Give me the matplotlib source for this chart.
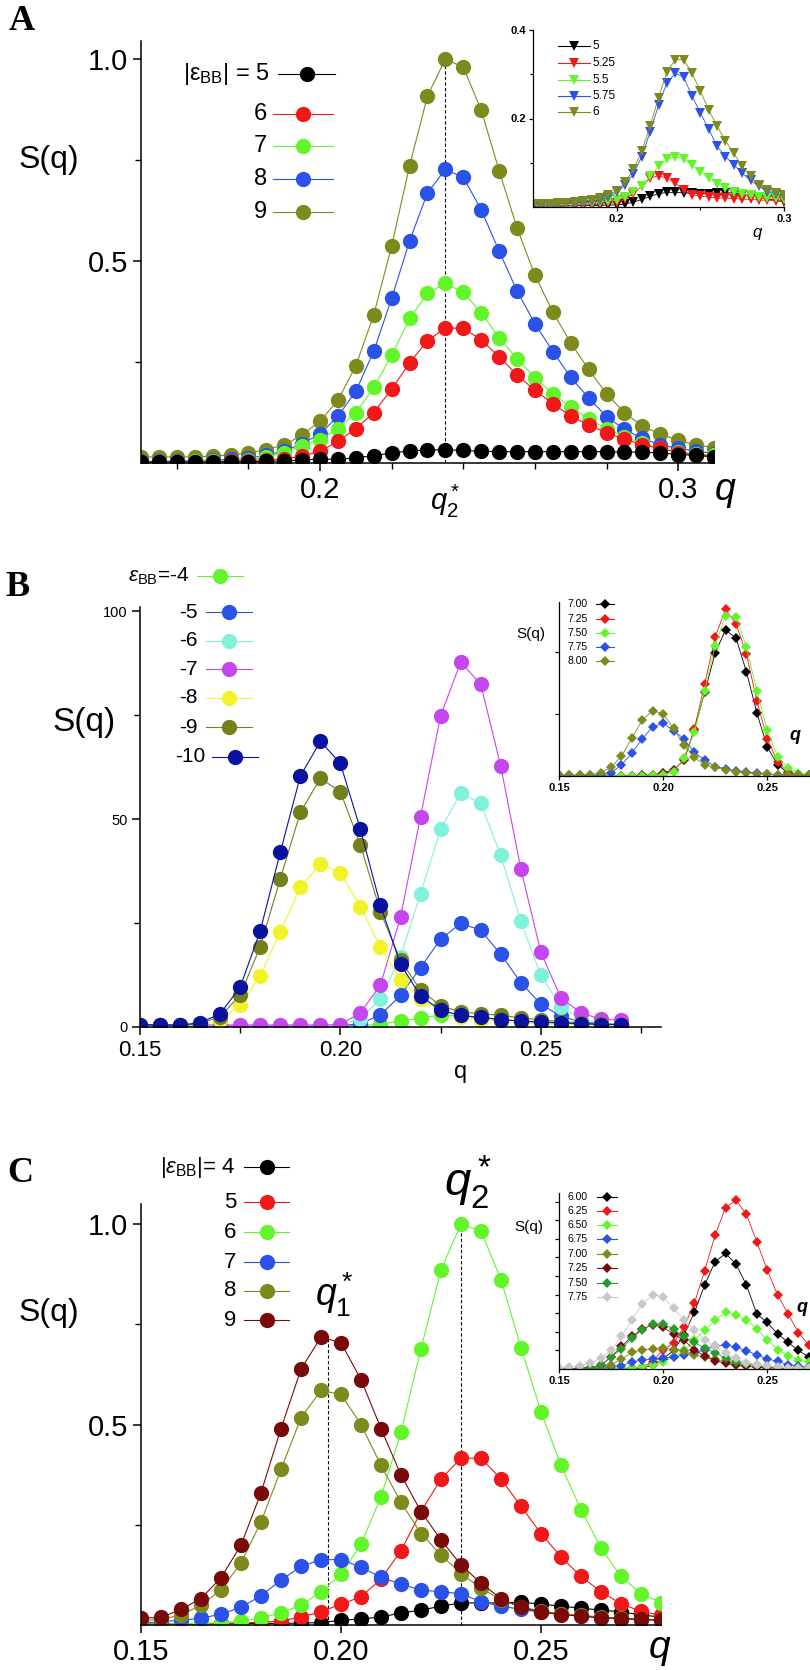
import numpy as np
import matplotlib
matplotlib.use('Agg')
import matplotlib.pyplot as plt
from matplotlib.lines import Line2D
from matplotlib.transforms import blended_transform_factory

plt.rcParams['font.family'] = ['Liberation Sans', 'DejaVu Sans']
plt.rcParams['mathtext.fontset'] = 'custom'
plt.rcParams['mathtext.rm'] = 'Liberation Sans'
plt.rcParams['mathtext.it'] = 'Liberation Sans:italic'
plt.rcParams['mathtext.bf'] = 'Liberation Sans:bold'

#Panel A main data (q = 0.150 ... 0.310, step 0.005)
q_a = np.linspace(0.15, 0.31, 33)
a_labels = ['5', '6', '7', '8', '9']
a_colors = ['black', '#f01818', '#62f52a', '#2a52e8', '#7f8a1c']
a_5 = [0.002, 0.002, 0.002, 0.002, 0.002, 0.003, 0.003, 0.004, 0.005, 0.007, 0.01, 0.009, 0.013, 0.018, 0.025, 0.03,
       0.032, 0.033, 0.031, 0.029, 0.028, 0.028, 0.028, 0.028, 0.028, 0.028, 0.028, 0.027, 0.027, 0.025, 0.021, 0.019, 0.016]
a_6 = [0.002, 0.002, 0.002, 0.002, 0.003, 0.004, 0.006, 0.008, 0.01, 0.017, 0.029, 0.054, 0.085, 0.125, 0.183, 0.248,
       0.303, 0.334, 0.334, 0.305, 0.263, 0.218, 0.18, 0.147, 0.116, 0.094, 0.075, 0.059, 0.045, 0.036, 0.026, 0.02, 0.014]
a_7 = [0.003, 0.003, 0.003, 0.004, 0.005, 0.006, 0.008, 0.014, 0.026, 0.043, 0.058, 0.085, 0.125, 0.187, 0.267, 0.358,
       0.42, 0.445, 0.423, 0.372, 0.31, 0.258, 0.211, 0.171, 0.139, 0.109, 0.085, 0.065, 0.049, 0.036, 0.028, 0.023, 0.019]
a_8 = [0.004, 0.004, 0.005, 0.006, 0.007, 0.009, 0.012, 0.019, 0.03, 0.048, 0.072, 0.116, 0.178, 0.277, 0.408, 0.55,
       0.669, 0.727, 0.707, 0.627, 0.525, 0.426, 0.345, 0.276, 0.212, 0.161, 0.115, 0.083, 0.061, 0.045, 0.036, 0.03, 0.023]
a_9 = [0.015, 0.015, 0.015, 0.015, 0.017, 0.02, 0.025, 0.033, 0.045, 0.069, 0.104, 0.155, 0.241, 0.367, 0.538, 0.736,
       0.909, 1.0, 0.98, 0.874, 0.724, 0.582, 0.465, 0.374, 0.297, 0.232, 0.171, 0.125, 0.091, 0.072, 0.056, 0.045, 0.038]
a_series = [a_5, a_6, a_7, a_8, a_9]
q2_a = 0.235

#Panel A inset (q = 0.150 ... 0.300)
q_ai = np.linspace(0.15, 0.30, 31)
ai_labels = ['5', '5.25', '5.5', '5.75', '6']
ai_5 = [0.002, 0.002, 0.002, 0.002, 0.002, 0.003, 0.003, 0.003, 0.004, 0.004, 0.005, 0.007, 0.011, 0.017, 0.024, 0.03,
        0.033, 0.033, 0.032, 0.031, 0.03, 0.03, 0.031, 0.032, 0.032, 0.028, 0.026, 0.022, 0.018, 0.015, 0.012]
ai_525 = [0.003, 0.003, 0.003, 0.003, 0.004, 0.004, 0.005, 0.005, 0.006, 0.008, 0.01, 0.018, 0.03, 0.047, 0.065, 0.071,
          0.065, 0.054, 0.039, 0.028, 0.024, 0.023, 0.02, 0.02, 0.019, 0.018, 0.017, 0.016, 0.015, 0.014, 0.013]
ai_55 = [0.004, 0.004, 0.005, 0.005, 0.006, 0.007, 0.008, 0.009, 0.011, 0.013, 0.016, 0.023, 0.033, 0.047, 0.069, 0.092,
         0.108, 0.114, 0.108, 0.095, 0.079, 0.065, 0.053, 0.043, 0.035, 0.029, 0.026, 0.023, 0.021, 0.02, 0.018]
ai_575 = [0.005, 0.005, 0.006, 0.007, 0.008, 0.009, 0.011, 0.013, 0.016, 0.022, 0.033, 0.05, 0.075, 0.114, 0.17, 0.23,
          0.281, 0.302, 0.294, 0.251, 0.213, 0.176, 0.137, 0.114, 0.095, 0.077, 0.06, 0.047, 0.035, 0.03, 0.024]
ai_6 = [0.006, 0.006, 0.007, 0.008, 0.009, 0.011, 0.013, 0.016, 0.02, 0.026, 0.037, 0.056, 0.085, 0.126, 0.183, 0.247,
        0.305, 0.333, 0.333, 0.303, 0.262, 0.22, 0.183, 0.15, 0.121, 0.092, 0.069, 0.05, 0.039, 0.032, 0.026]
ai_series = [ai_5, ai_525, ai_55, ai_575, ai_6]

#Panel B main (q = 0.150 ... 0.270)
q_b = np.linspace(0.15, 0.27, 25)
b_labels = ['-4', '-5', '-6', '-7', '-8', '-9', '-10']
b_colors = ['#62f52a', '#2a52e8', '#80f2dc', '#c545ee', '#f2f22a', '#76801a', '#0a12a0']
b_4 = [0.1] * 10 + [0.2, 0.4, 0.6, 1.5, 2.1, 2.9, 2.6, 2.2, 1.8, 1.4, 1.1, 0.9, 0.7, 0.6, 0.5]
b_5 = [0.2] * 10 + [0.3, 0.8, 2.9, 7.6, 14.3, 21.1, 24.9, 23.3, 17.5, 10.7, 5.5, 2.6, 1.2, 0.8, 0.6]
b_6 = [0.3] * 10 + [0.4, 2.0, 6.8, 16.9, 32.1, 47.5, 56.2, 53.8, 41.3, 25.5, 12.5, 4.9, 2.0, 1.0, 0.7]
b_7 = [0.5] * 10 + [0.6, 3.4, 10.1, 26.4, 50.6, 74.8, 87.7, 82.5, 62.8, 38.1, 18.1, 7.0, 3.4, 1.9, 1.6]
b_8 = [0.2, 0.2, 0.2, 0.3, 1.7, 5.2, 12.3, 22.9, 33.6, 39.2, 37.1, 28.9, 19.2, 11.3, 6.8, 4.0, 2.5, 1.8, 1.3, 1.0,
       0.8, 0.6, 0.5, 0.4, 0.3]
b_9 = [0.4, 0.4, 0.4, 0.8, 2.5, 7.7, 19.3, 35.6, 51.6, 59.8, 56.6, 43.8, 27.7, 16.0, 8.9, 5.1, 3.6, 3.2, 2.8, 2.2,
       1.7, 1.3, 1.0, 0.8, 0.6]
b_10 = [0.6, 0.5, 0.5, 1.0, 3.2, 9.6, 23.1, 42.0, 60.3, 68.7, 63.4, 47.5, 29.3, 15.1, 7.5, 4.0, 2.8, 2.3, 1.8, 1.4,
        1.2, 1.0, 0.8, 0.6, 0.6]
b_series = [b_4, b_5, b_6, b_7, b_8, b_9, b_10]

#Panel B inset (q = 0.150 ... 0.270)
bi_labels = ['7.00', '7.25', '7.50', '7.75', '8.00']
bi_colors = ['black', '#f01818', '#62f52a', '#2a52e8', '#7f8a1c']
bi_700 = [0, 0, 0, 0, 0, 0, 0, 0, 0.01, 0.02, 0.05, 0.1, 0.25, 0.74, 1.35, 1.98, 2.35, 2.22, 1.68, 1.02, 0.47, 0.18,
          0.05, 0.02, 0.01]
bi_725 = [0, 0, 0, 0, 0, 0, 0, 0, 0, 0.01, 0.03, 0.08, 0.27, 0.76, 1.48, 2.24, 2.68, 2.45, 1.97, 1.21, 0.6, 0.23,
          0.06, 0.02, 0.01]
bi_750 = [0, 0, 0, 0, 0, 0, 0, 0, 0, 0.01, 0.02, 0.06, 0.29, 0.71, 1.37, 2.1, 2.58, 2.56, 2.08, 1.37, 0.74, 0.31,
          0.13, 0.05, 0.02]
bi_775 = [0.01, 0.01, 0.01, 0.01, 0.02, 0.05, 0.18, 0.37, 0.6, 0.79, 0.85, 0.73, 0.6, 0.38, 0.26, 0.15, 0.12, 0.08,
          0.06, 0.05, 0.03, 0.02, 0.02, 0.01, 0.01]
bi_800 = [0.01, 0.01, 0.01, 0.02, 0.05, 0.14, 0.32, 0.61, 0.9, 1.05, 1.0, 0.77, 0.5, 0.3, 0.18, 0.14, 0.1, 0.07, 0.05,
          0.04, 0.03, 0.02, 0.02, 0.01, 0.01]
bi_series = [bi_700, bi_725, bi_750, bi_775, bi_800]

#Panel C main (q = 0.150 ... 0.280)
q_c = np.linspace(0.15, 0.28, 27)
c_labels = ['4', '5', '6', '7', '8', '9']
c_colors = ['black', '#f01818', '#62f52a', '#2a52e8', '#7f8a1c', '#7a0a0a']
c_4 = [0.002, 0.002, 0.002, 0.002, 0.003, 0.003, 0.004, 0.004, 0.005, 0.006, 0.012, 0.015, 0.02, 0.03, 0.037, 0.047,
       0.055, 0.055, 0.055, 0.057, 0.052, 0.047, 0.042, 0.037, 0.033, 0.025, 0.02]
c_5 = [0.002, 0.002, 0.003, 0.003, 0.004, 0.005, 0.007, 0.01, 0.02, 0.033, 0.052, 0.07, 0.115, 0.185, 0.283, 0.364,
       0.416, 0.416, 0.364, 0.296, 0.228, 0.17, 0.121, 0.083, 0.053, 0.034, 0.024]
c_6 = [0.002, 0.002, 0.003, 0.004, 0.006, 0.01, 0.017, 0.031, 0.049, 0.083, 0.126, 0.201, 0.32, 0.481, 0.689, 0.886,
       1.0, 0.983, 0.861, 0.692, 0.532, 0.398, 0.288, 0.192, 0.121, 0.078, 0.056]
c_7 = [0.005, 0.008, 0.012, 0.017, 0.027, 0.044, 0.073, 0.112, 0.146, 0.163, 0.163, 0.144, 0.119, 0.102, 0.087, 0.083,
       0.078, 0.058, 0.047, 0.039, 0.032, 0.027, 0.022, 0.018, 0.015, 0.013, 0.012]
c_8 = [0.01, 0.015, 0.024, 0.05, 0.087, 0.155, 0.257, 0.388, 0.517, 0.585, 0.575, 0.5, 0.398, 0.306, 0.228, 0.175,
       0.128, 0.092, 0.063, 0.045, 0.035, 0.028, 0.024, 0.02, 0.017, 0.015, 0.012]
c_9 = [0.017, 0.019, 0.039, 0.066, 0.118, 0.199, 0.33, 0.49, 0.638, 0.718, 0.704, 0.612, 0.49, 0.374, 0.283, 0.212,
       0.15, 0.104, 0.066, 0.044, 0.032, 0.026, 0.022, 0.018, 0.016, 0.014, 0.012]
c_series = [c_4, c_5, c_6, c_7, c_8, c_9]
q1_c = 0.1967
q2_c = 0.23

#Panel C inset (q = 0.150 ... 0.270)
ci_labels = ['6.00', '6.25', '6.50', '6.75', '7.00', '7.25', '7.50', '7.75']
ci_colors = ['black', '#f01818', '#62f52a', '#2a52e8', '#7f8a1c', '#7a0a0a', '#2a9a2a', '#c8c8c8']
ci_600 = [0, 0, 0, 0, 0, 0, 0.01, 0.03, 0.08, 0.2, 0.55, 1.0, 1.84, 3.04, 4.52, 5.77, 6.21, 5.64, 4.52, 2.96, 2.5,
          1.89, 1.43, 1.0, 0.64]
ci_625 = [0, 0, 0, 0, 0, 0, 0.01, 0.03, 0.1, 0.4, 1.04, 1.39, 2.25, 3.54, 5.29, 7.2, 8.68, 9.07, 8.32, 6.84, 5.32,
          3.98, 2.96, 1.96, 1.3]
ci_650 = [0, 0, 0, 0, 0, 0.02, 0.04, 0.07, 0.11, 0.23, 0.36, 0.64, 1.0, 1.54, 2.07, 2.64, 3.04, 2.91, 2.64, 2.14,
          1.57, 1.04, 0.71, 0.5, 0.36]
ci_675 = [0, 0.01, 0.02, 0.04, 0.08, 0.12, 0.18, 0.36, 0.5, 0.54, 0.59, 0.63, 0.77, 0.86, 1.04, 1.21, 1.3, 1.18,
          0.98, 0.77, 0.54, 0.41, 0.23, 0.15, 0.1]
ci_700 = [0, 0.01, 0.02, 0.04, 0.1, 0.23, 0.54, 0.89, 1.04, 1.07, 1.13, 1.04, 0.95, 0.77, 0.64, 0.54, 0.41, 0.32,
          0.25, 0.18, 0.13, 0.1, 0.07, 0.06, 0.05]
ci_725 = [0, 0.01, 0.03, 0.08, 0.2, 0.64, 1.21, 1.75, 2.14, 2.38, 2.25, 1.88, 1.54, 1.04, 0.7, 0.45, 0.3, 0.2, 0.14,
          0.1, 0.07, 0.05, 0.04, 0.03, 0.02]
ci_750 = [0, 0.01, 0.03, 0.08, 0.2, 0.64, 1.07, 1.66, 2.11, 2.43, 2.43, 2.14, 1.75, 1.43, 1.13, 0.85, 0.6, 0.4,
          0.28, 0.2, 0.14, 0.1, 0.07, 0.05, 0.04]
ci_775 = [0.05, 0.1, 0.18, 0.32, 0.59, 1.0, 1.75, 2.64, 3.5, 3.98, 3.89, 3.27, 2.64, 2.07, 1.57, 1.21, 0.86, 0.59,
          0.32, 0.23, 0.15, 0.1, 0.07, 0.05, 0.04]
ci_series = [ci_600, ci_625, ci_650, ci_675, ci_700, ci_725, ci_750, ci_775]

W, H = 810, 1670
MS = 11
fig = plt.figure(figsize=(W / 100, H / 100), dpi=100)


def px_axes(l, t, r, b):
    ax = fig.add_axes([l / W, 1 - b / H, (r - l) / W, (b - t) / H])
    ax.spines['top'].set_visible(False)
    ax.spines['right'].set_visible(False)
    return ax


def ftext(x, y, s, **kw):
    kw.setdefault('ha', 'center')
    kw.setdefault('va', 'center')
    fig.text(x / W, 1 - y / H, s, **kw)


def key(xt, y, label, color, marker, ms, x0, x1, ha='right', fs=16):
    ftext(xt, y, label, ha=ha, fontsize=fs)
    xm = (x0 + x1) / 2
    fig.add_artist(Line2D([x0 / W, xm / W, x1 / W], [1 - y / H] * 3, transform=fig.transFigure,
                          color=color, lw=0.8, marker=marker, ms=ms, markevery=[1], mew=0))


def main_style(ax, lab):
    for s in ['left', 'bottom']:
        ax.spines[s].set_linewidth(1.1)
    ax.tick_params(which='major', direction='out', length=6, width=1.1, labelsize=lab, pad=3)
    ax.tick_params(which='minor', direction='out', length=4, width=1.0)


def inset_style(ax):
    for s in ['left', 'bottom']:
        ax.spines[s].set_linewidth(0.9)
    ax.tick_params(which='major', direction='out', length=3, width=0.9, labelsize=8, pad=2)
    ax.tick_params(which='minor', direction='out', length=2, width=0.8)
    for t in ax.get_xticklabels() + ax.get_yticklabels():
        t.set_fontweight('bold')


#---------------- Panel A ----------------
ax = px_axes(141, 41, 714, 463)
for vals, col in list(zip(a_series, a_colors))[::-1]:
    ax.plot(q_a, vals, color=col, lw=0.8, marker='o', ms=MS, mew=0)
ax.vlines(q2_a, 0, max(a_9), colors='black', linestyles=(0, (3, 2)), lw=0.8, zorder=0)
ax.set_xlim(0.15, 0.31)
ax.set_ylim(0, 1.045)
ax.set_xticks([0.2, 0.3])
ax.set_xticklabels(['0.2', '0.3'])
ax.set_xticks([0.16, 0.18, 0.22, 0.24, 0.26, 0.28], minor=True)
ax.set_yticks([0.5, 1.0])
ax.set_yticklabels(['0.5', '1.0'])
ax.set_yticks([0.25, 0.75], minor=True)
main_style(ax, 21)
ax.text(q2_a, -0.09, r'$q_2^*$', transform=blended_transform_factory(ax.transData, ax.transAxes),
        ha='center', va='center', fontsize=21)
ftext(725, 490, 'q', fontsize=27, style='italic')
ftext(49, 160, 'S(q)', fontsize=23)
ftext(22, 22, 'A', fontsize=26, fontweight='bold', family='Liberation Serif')

key(270, 74, r'$|\mathrm{ε}_{\mathrm{BB}}|$ = 5', a_colors[0], 'o', MS, 278, 335, fs=17)
for lab, col, y in zip(a_labels[1:], a_colors[1:], [114, 146, 179, 212]):
    key(267, y, lab, col, 'o', MS, 273, 333, fs=17)

axi = px_axes(533, 30, 784, 207)
for vals, col in zip(ai_series, a_colors):
    axi.plot(q_ai, vals, color=col, lw=0.6, marker='v', ms=7, mew=0)
axi.set_xlim(0.15, 0.30)
axi.set_ylim(0, 0.4)
axi.set_xticks([0.2, 0.3])
axi.set_xticklabels(['0.2', '0.3'])
axi.set_xticks([0.25], minor=True)
axi.set_yticks([0.2, 0.4])
axi.set_yticklabels(['0.2', '0.4'])
axi.set_yticks([0.1, 0.3], minor=True)
inset_style(axi)
ftext(757, 233, 'q', fontsize=12, style='italic')
for lab, col, y in zip(ai_labels, a_colors, [46, 63, 80, 96, 112]):
    key(592, y, lab, col, 'v', 7, 558, 590, ha='left', fs=8.5)

#---------------- Panel B ----------------
ax = px_axes(140, 607, 661, 1027)
for vals, col in zip(b_series, b_colors):
    ax.plot(q_b, vals, color=col, lw=0.8, marker='o', ms=MS, mew=0)
ax.set_xlim(0.15, 0.28)
ax.set_ylim(0, 101)
ax.set_xticks([0.15, 0.2, 0.25])
ax.set_xticklabels(['0.15', '0.20', '0.25'])
ax.set_xticks([0.175, 0.225, 0.275], minor=True)
ax.set_yticks([0, 50, 100])
ax.set_yticks([25, 75], minor=True)
main_style(ax, 16)
ax.tick_params(axis='y', which='major', labelsize=10.5)
ftext(461, 1072, 'q', fontsize=17)
ftext(84, 723, 'S(q)', fontsize=24)
ftext(18, 588, 'B', fontsize=26, fontweight='bold', family='Liberation Serif')

key(189, 576, r'$\mathit{ε}_{\mathrm{BB}}$=-4', b_colors[0], 'o', MS, 197, 243, fs=15)
for lab, col, y in zip(b_labels[1:6], b_colors[1:6], [612, 641, 669, 698, 727]):
    key(198, y, lab, col, 'o', MS, 206, 252, fs=15)
key(205, 757, b_labels[6], b_colors[6], 'o', MS, 212, 258, fs=15)

axi = px_axes(559, 602, 813, 776)
for vals, col in zip(bi_series, bi_colors):
    axi.plot(q_b, vals, color=col, lw=0.6, marker='D', ms=4.8, mew=0)
axi.set_xlim(0.15, 0.272)
axi.set_ylim(0, 2.8)
axi.set_xticks([0.15, 0.2, 0.25])
axi.set_xticklabels(['0.15', '0.20', '0.25'])
axi.set_yticks([1, 2])
axi.set_yticklabels([])
inset_style(axi)
ftext(531, 634, 'S(q)', fontsize=11)
ftext(795, 735, 'q', fontsize=13, style='italic', fontweight='bold')
for lab, col, y in zip(bi_labels, bi_colors, [604, 619, 633, 647, 661]):
    key(567, y, lab, col, 'D', 4.8, 596, 614, ha='left', fs=7.5)

#---------------- Panel C ----------------
ax = px_axes(141, 1204, 661, 1625)
for vals, col in zip(c_series, c_colors):
    ax.plot(q_c, vals, color=col, lw=0.8, marker='o', ms=MS, mew=0)
ax.vlines(q1_c, 0, max(c_9), colors='black', linestyles=(0, (3, 2)), lw=0.8, zorder=0)
ax.vlines(q2_c, 0, max(c_6), colors='black', linestyles=(0, (3, 2)), lw=0.8, zorder=0)
ax.set_xlim(0.15, 0.28)
ax.set_ylim(0, 1.05)
ax.set_xticks([0.15, 0.2, 0.25])
ax.set_xticklabels(['0.15', '0.20', '0.25'])
ax.set_yticks([0.5, 1.0])
ax.set_yticklabels(['0.5', '1.0'])
ax.set_yticks([0.25, 0.75], minor=True)
main_style(ax, 21)
ax.annotate(r'$q_1^*$', xy=(q1_c, max(c_9)), xytext=(5, 30), textcoords='offset points',
            ha='center', va='center', fontsize=27)
ax.annotate(r'$q_2^*$', xy=(q2_c, max(c_6)), xytext=(5, 30), textcoords='offset points',
            ha='center', va='center', fontsize=34)
ftext(660, 1648, 'q', fontsize=28, style='italic')
ftext(49, 1313, 'S(q)', fontsize=23)
ftext(20, 1173, 'C', fontsize=26, fontweight='bold', family='Liberation Serif')

key(236, 1167, r'$|\mathit{ε}_{\mathrm{BB}}|$= 4', c_colors[0], 'o', MS, 244, 289, fs=16)
for lab, col, y in zip(c_labels[1:], c_colors[1:], [1202, 1232, 1262, 1291, 1320]):
    key(236, y, lab, col, 'o', MS, 244, 289, fs=16)

axi = px_axes(559, 1193, 813, 1369)
for vals, col in zip(ci_series, ci_colors):
    axi.plot(q_b, vals, color=col, lw=0.6, marker='D', ms=4.8, mew=0)
axi.set_xlim(0.15, 0.272)
axi.set_ylim(0, 9.46)
axi.set_xticks([0.15, 0.2, 0.25])
axi.set_xticklabels(['0.15', '0.20', '0.25'])
axi.set_yticks(range(1, 10))
axi.set_yticklabels([])
inset_style(axi)
ftext(529, 1227, 'S(q)', fontsize=11)
ftext(802, 1308, 'q', fontsize=13, style='italic', fontweight='bold')
for lab, col, y in zip(ci_labels, ci_colors, [1197, 1211, 1225, 1239, 1254, 1268, 1283, 1297]):
    key(567, y, lab, col, 'D', 4.8, 597, 617, ha='left', fs=7.5)

plt.savefig('out.png', dpi=100)
